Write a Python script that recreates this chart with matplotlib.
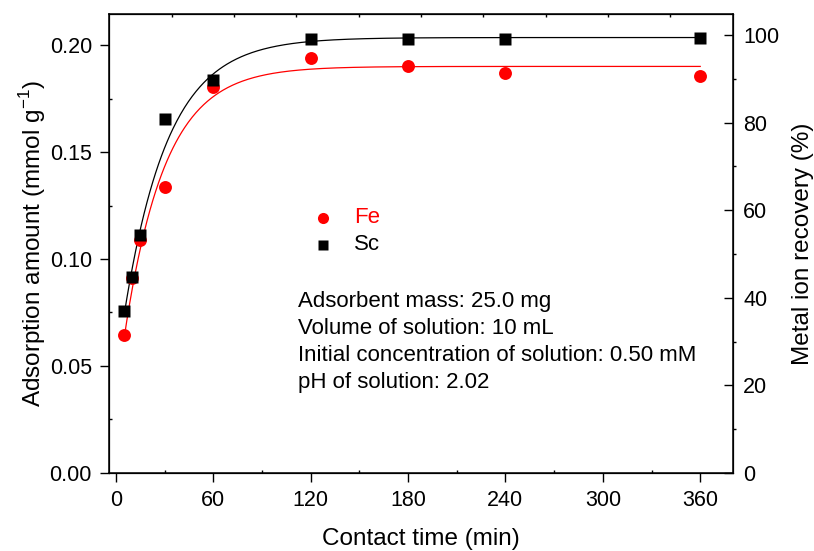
import matplotlib
matplotlib.use("Agg")
import matplotlib.pyplot as plt
import numpy as np

plt.rcParams['font.family'] = ['Liberation Sans', 'DejaVu Sans']
plt.rcParams['mathtext.fontset'] = 'custom'
plt.rcParams['mathtext.rm'] = 'Liberation Sans'

# contact time (min)
t = [5, 10, 15, 30, 60, 120, 180, 240, 360]
# adsorption amount (mmol/g)
fe_q = [0.0645, 0.0910, 0.1090, 0.1335, 0.1805, 0.1940, 0.1902, 0.1868, 0.1857]
sc_q = [0.0757, 0.0916, 0.1112, 0.1656, 0.1836, 0.2027, 0.2028, 0.2028, 0.2033]

# fitted kinetic curves q = qe*(1 - a*exp(-k*t)), parameters estimated from the lines
fe_fit = {'qe': 0.1900, 'a': 0.82, 'k': 0.040}
sc_fit = {'qe': 0.2035, 'a': 0.77, 'k': 0.037}

notes = ["Adsorbent mass: 25.0 mg",
         "Volume of solution: 10 mL",
         "Initial concentration of solution: 0.50 mM",
         "pH of solution: 2.02"]

tick_fs = 15.5
label_fs = 17.5
text_fs = 16

fig = plt.figure(figsize=(8.14, 5.51), dpi=100)
ax = fig.add_axes([0.1343, 0.1416, 0.9001 - 0.1343, 0.9746 - 0.1416])

tt = np.linspace(5, 360, 600)
for p, c in [(fe_fit, 'red'), (sc_fit, 'black')]:
    ax.plot(tt, p['qe'] * (1 - p['a'] * np.exp(-p['k'] * tt)), color=c, lw=0.9, zorder=2)

ax.plot(t, fe_q, 'o', color='red', ms=9.3, mec='none', zorder=3)
ax.plot(t, sc_q, 's', color='black', ms=8, mec='none', zorder=4)

ax.set_xlim(-4, 380)
ax.set_ylim(0, 0.2145)
ax.set_xticks(range(0, 361, 60))
ax.set_xticks(range(30, 361, 60), minor=True)
ax.set_yticks(np.arange(0, 0.201, 0.05))
ax.set_yticks(np.arange(0.025, 0.21, 0.05), minor=True)
ax.yaxis.set_major_formatter(matplotlib.ticker.FormatStrFormatter('%.2f'))
ax.tick_params(which='major', direction='out', length=6.5, width=1.0, labelsize=tick_fs, pad=6)
ax.tick_params(which='minor', direction='in', length=2.5, width=1.0)
for s in ax.spines.values():
    s.set_linewidth(1.1)

ax.set_xlabel("Contact time (min)", fontsize=label_fs, labelpad=12)
ax.set_ylabel(r"Adsorption amount (mmol g$^{\mathregular{-1}}$)", fontsize=label_fs, labelpad=1)

ax2 = ax.twinx()
ax2.set_ylim(0, 104.8)
ax2.set_yticks(range(0, 101, 20))
ax2.set_yticks(range(10, 101, 20), minor=True)
ax2.tick_params(which='major', direction='in', length=6.5, width=1.0, labelsize=tick_fs, pad=7.5)
ax2.tick_params(which='minor', direction='out', length=2.5, width=1.0)
ax2.set_ylabel("Metal ion recovery (%)", fontsize=label_fs, labelpad=9)

ax3 = ax.twiny()
ax3.set_xlim(0, 10)
ax3.set_xticks(range(1, 10))
ax3.tick_params(direction='in', length=2.5, width=1.0, labeltop=False)

# legend drawn by hand in axes coordinates
ax.plot([0.342], [0.556], 'o', color='red', ms=8, mec='none', transform=ax.transAxes, clip_on=False)
ax.plot([0.342], [0.497], 's', color='black', ms=6.5, mec='none', transform=ax.transAxes, clip_on=False)
ax.text(0.3925, 0.556, "Fe", color='red', fontsize=text_fs, va='center', transform=ax.transAxes)
ax.text(0.3925, 0.497, "Sc", color='black', fontsize=text_fs, va='center', transform=ax.transAxes)

for i, line in enumerate(notes):
    ax.text(0.3032, 0.373 - i * 0.0588, line, fontsize=text_fs, va='center', transform=ax.transAxes)

fig.savefig("out.png", dpi=100)
